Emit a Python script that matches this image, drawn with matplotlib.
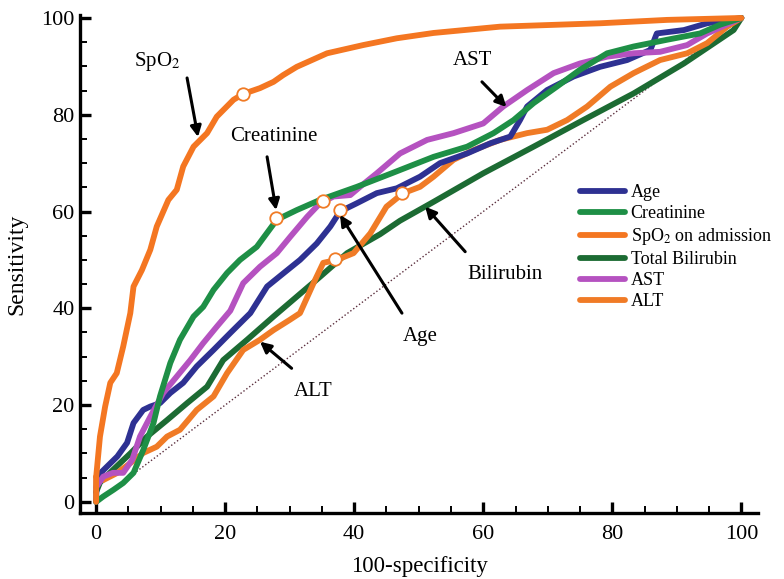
import matplotlib
matplotlib.use("Agg")
import matplotlib.pyplot as plt
from matplotlib.ticker import MultipleLocator

plt.rcParams['font.family'] = ['Liberation Serif', 'DejaVu Serif']
plt.rcParams['mathtext.fontset'] = 'stix'

# ROC curves (100-specificity, sensitivity)
spo2_x = [0, 0, 0.6, 1.4, 2.2, 3.2, 4.2, 5.3, 5.8, 7.1, 8.4, 9.4, 11.2, 12.5, 13.5, 15.1,
          17.2, 18.7, 21.3, 22.8, 25.4, 27.5, 29, 31.1, 35.8, 41.4, 46.6, 52.3, 62.6,
          78.1, 88.5, 100]
spo2_y = [0, 5, 13.5, 19.7, 24.6, 26.6, 32.1, 39, 44.5, 47.9, 52.1, 56.9, 62.4, 64.5, 69.3,
          73.4, 76.2, 79.6, 83.1, 84.3, 85.5, 86.8, 88.2, 89.9, 92.7, 94.4, 95.8, 96.9,
          98.2, 98.9, 99.6, 100]

creat_x = [0, 1.1, 2.7, 4.2, 5.8, 7.3, 8.9, 9.9, 11.5, 13, 15.1, 16.6, 18.2, 20.3, 22.3,
           24.9, 28, 31.1, 34.7, 40.4, 46, 52.3, 57.5, 61.6, 64.7, 67.8, 71.4, 75, 79.2,
           83.3, 88.5, 93.6, 96.7, 100]
creat_y = [0, 1.1, 2.5, 3.9, 6, 10.7, 16.3, 21.8, 28.7, 33.5, 38.3, 40.3, 43.8, 47.3, 50,
           52.7, 58.3, 60.3, 62.4, 65.1, 68, 71.3, 73.4, 76.2, 78.9, 82.4, 85.8, 89.3,
           92.7, 94.1, 95.5, 96.8, 98.6, 100]

ast_x = [0, 1.1, 2.6, 4.2, 5.6, 6.8, 8.4, 10.4, 12.5, 14.6, 16.6, 18.7, 20.8, 22.8, 25.4,
         28, 30.1, 32.7, 34.7, 36.8, 39.4, 40.9, 43.5, 47.1, 51.3, 55.4, 60, 63.1, 66.8,
         70.9, 75, 79.2, 83.3, 87.4, 91.6, 94.7, 100]
ast_y = [3, 5.2, 6, 6, 8.7, 13.5, 17.6, 22.5, 25.9, 29.3, 32.8, 36.2, 39.5, 45.2, 48.6,
         51.4, 54.8, 58.9, 61.7, 63.1, 63.4, 65.1, 67.9, 72, 74.8, 76.2, 78.2, 81.7, 85.1,
         88.6, 90.6, 92, 92.7, 93, 94.4, 96.8, 100]

age_x = [0, 0.1, 1.7, 3.3, 4.8, 5.8, 7.3, 8.4, 9.9, 11.5, 13.5, 15.6, 18.2, 20.8, 23.9,
         26.5, 29, 31.6, 34.2, 36.3, 37.8, 40.4, 43.5, 46.6, 50.2, 53.3, 57.5, 61.1, 64.2,
         65.7, 66.8, 69.9, 74, 78.1, 82.3, 85.9, 86.9, 91.1, 94.7, 100]
age_y = [0, 5.2, 7.3, 9.4, 12.2, 16.3, 19, 19.7, 20.4, 22.5, 24.6, 28, 31.4, 34.9, 39,
         44.5, 47.2, 50, 53.4, 56.9, 60, 61.7, 63.8, 64.8, 67.2, 70, 72, 74.1, 75.5,
         78.9, 81.7, 85.1, 87.9, 89.9, 91.3, 93.4, 96.8, 97.5, 98.9, 100]

bili_x = [0, 0.6, 2.6, 5.3, 7.9, 11, 14.1, 17.2, 19.7, 23.4, 27.5, 31.1, 34.7, 38.9, 44,
          47.1, 52.3, 60, 67.8, 75.5, 83.3, 91.1, 98.8, 100]
bili_y = [2, 4, 6.6, 10, 13.5, 16.9, 20.4, 23.8, 29.3, 33.5, 38.3, 42.4, 46.5, 51.4, 55.3,
          58.1, 62, 67.9, 73.4, 78.9, 84.4, 90.6, 97.5, 100]

alt_x = [0, 1.1, 3.3, 5.3, 7.3, 9.4, 11, 13, 15.6, 18.2, 20.3, 22.8, 25.4, 27.5, 30, 31.6,
         33.7, 35.2, 37.3, 39.9, 42.5, 45, 47.6, 50.2, 52.3, 55.4, 58.5, 62.6, 66.8, 69.9,
         73, 76.1, 79.7, 83.3, 87.4, 91.6, 94.7, 97.8, 100]
alt_y = [5.2, 4.5, 6, 8, 10.1, 11.4, 13.5, 14.9, 19, 21.8, 26.6, 31.4, 33.5, 35.5, 37.6,
         39, 45.2, 49.4, 50, 51.4, 55.5, 61, 63.8, 65.1, 67.2, 70.7, 72.7, 74.8, 76.2,
         76.9, 78.9, 81.7, 85.8, 88.6, 91.3, 92.7, 94.8, 98.2, 100]

# cut-off points (open circles)
cut_x = [22.7, 27.9, 35.2, 37.8, 47.4, 37.1]
cut_y = [84.2, 58.6, 62.2, 60.3, 63.8, 50.1]

series = [
    ("Age", age_x, age_y, "#2E3192"),
    ("Creatinine", creat_x, creat_y, "#1E8F46"),
    ("SpO$_2$ on admission", spo2_x, spo2_y, "#F47621"),
    ("Total Bilirubin", bili_x, bili_y, "#1C6B33"),
    ("AST", ast_x, ast_y, "#B552C0"),
    ("ALT", alt_x, alt_y, "#F07B26"),
]
draw_order = [3, 5, 0, 4, 1, 2]

# label text, text position, arrow tail, arrow head
notes = [
    ("SpO$_2$", (9.5, 91.1), (14.1, 87.6), (15.8, 75.4)),
    ("Creatinine", (27.6, 75.6), (26.5, 71.3), (27.9, 60.3)),
    ("AST", (58.4, 91.3), (59.8, 86.8), (63.6, 81.6)),
    ("Bilirubin", (63.4, 46.9), (57.2, 51.7), (51.0, 61.0)),
    ("Age", (50.2, 34.2), (47.4, 39.0), (37.8, 59.3)),
    ("ALT", (33.6, 22.8), (30.3, 27.6), (25.4, 33.1)),
]

fig = plt.figure(figsize=(7.84, 5.79), dpi=100)
ax = fig.add_axes([0.102, 0.114, 0.865, 0.86])

ax.plot([0, 100], [0, 100], color="#5a2d3c", lw=1.0, ls=(0, (1, 1.6)), zorder=1)

lines = {}
for i in draw_order:
    name, xs, ys, col = series[i]
    lines[i], = ax.plot(xs, ys, color=col, lw=4.2, solid_joinstyle="round",
                        solid_capstyle="round", label=name, zorder=2 + draw_order.index(i))

ax.plot(cut_x, cut_y, ls="none", marker="o", ms=9, mfc="white", mec="#F07B26",
        mew=1.3, zorder=20)

for text, tpos, tail, head in notes:
    ax.annotate("", xy=head, xytext=tail,
                arrowprops=dict(arrowstyle="-|>", color="black", lw=2.2,
                                mutation_scale=16, shrinkA=0, shrinkB=0), zorder=25)
    ax.text(tpos[0], tpos[1], text, fontsize=15, ha="center", va="center", zorder=25)

ax.set_xlim(-2.5, 102.6)
ax.set_ylim(-2.3, 100.6)
ax.xaxis.set_major_locator(MultipleLocator(20))
ax.xaxis.set_minor_locator(MultipleLocator(5))
ax.yaxis.set_major_locator(MultipleLocator(20))
ax.yaxis.set_minor_locator(MultipleLocator(5))
ax.tick_params(which="major", direction="in", length=8, width=2.4, labelsize=16)
ax.tick_params(which="minor", direction="in", length=5, width=1.4)
ax.tick_params(axis="x", which="major", pad=9)
ax.tick_params(axis="y", which="major", pad=4)
for s in ["top", "right"]:
    ax.spines[s].set_visible(False)
for s in ["left", "bottom"]:
    ax.spines[s].set_linewidth(2.4)

ax.set_xlabel("100-specificity", fontsize=16.5, labelpad=8)
ax.set_ylabel("Sensitivity", fontsize=17, labelpad=10)

handles = [lines[i] for i in range(6)]
ax.legend(handles, [s[0] for s in series], loc="upper left",
          bbox_to_anchor=(0.74, 0.682), bbox_transform=fig.transFigure,
          frameon=False, fontsize=13, handlelength=2.5, handletextpad=0.3,
          labelspacing=0.22, borderpad=0, borderaxespad=0)

fig.savefig("out.png", dpi=100)
